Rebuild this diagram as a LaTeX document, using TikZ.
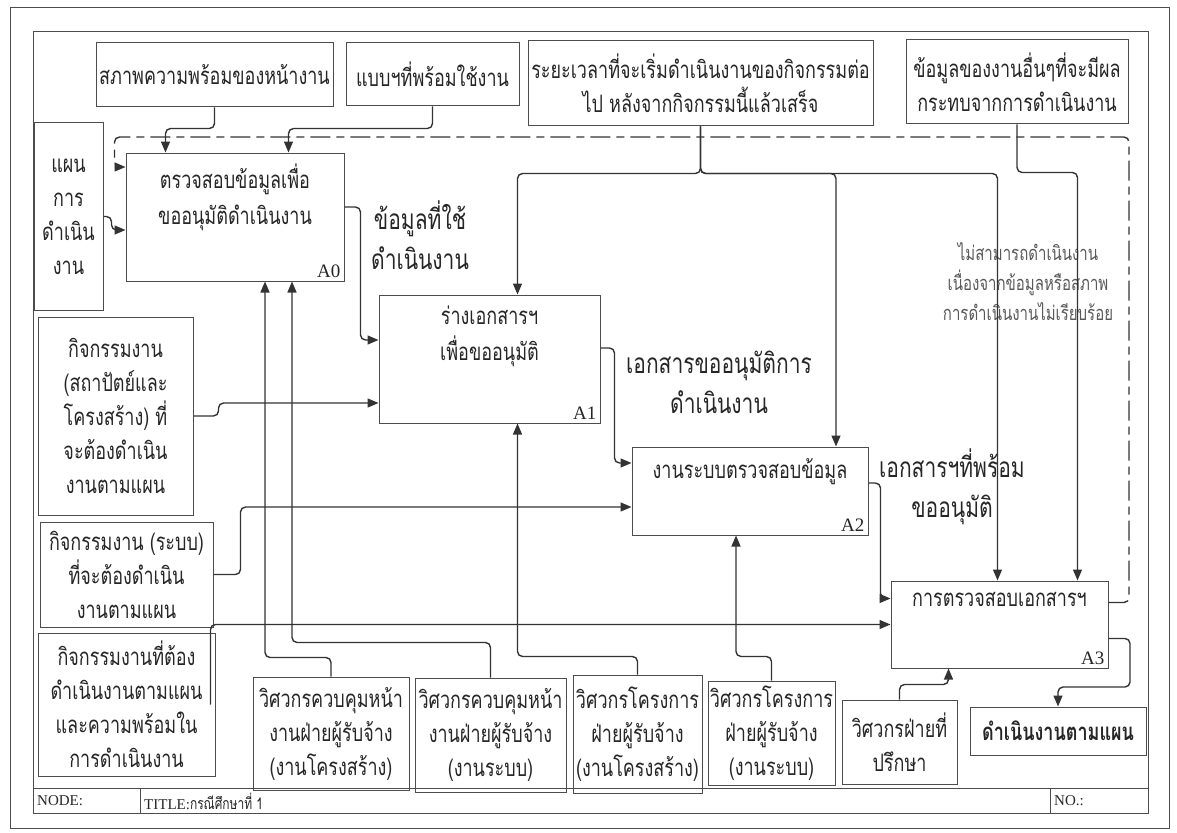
\documentclass[tikz,border=0pt]{standalone}
\usepackage{fontspec}
\setmainfont{Liberation Serif}
\newfontfamily\thai[Script=Thai,FakeStretch=0.75]{Loma}
\usetikzlibrary{arrows.meta}

\tikzset{
	box/.style={draw=black!70, line width=1pt, inner sep=0pt, align=center, text=black!85, font=\thai\fontsize{24}{34}\selectfont},
	acttxt/.style={anchor=north, yshift=-8pt, align=center, text=black!85, font=\thai\fontsize{24}{36}\selectfont},
	num/.style={anchor=south east, inner sep=4pt, text=black!85, font=\fontsize{19}{19}\selectfont},
	flow/.style={draw=black!80, line width=1.4pt, rounded corners=5pt, -{Triangle[length=11pt,width=9pt]}},
	fback/.style={flow, dash pattern=on 20pt off 6pt on 8pt off 6pt},
	lbl/.style={text=black!85, align=center, font=\thai\fontsize{28}{40}\selectfont},
	note/.style={text=black!65, align=center, font=\thai\fontsize{20}{30}\selectfont},
	frame/.style={draw=black!70, line width=1pt},
	foot/.style={anchor=west, inner sep=2pt, text=black!85, font=\fontsize{15}{15}\selectfont}
}

\begin{document}
\begin{tikzpicture}[x=1pt, y=-1pt]
	\useasboundingbox (0,0) rectangle (1177,832);
	\draw[frame] (10,8) rectangle (1169,828);
	\draw[frame] (33,32) rectangle (1148,813);
	\draw[frame] (33,788) -- (1148,788) (140,788) -- (140,813) (1050,788) -- (1050,813);
	\node[foot] (nd) at (35,801) {NODE:};
	\node[foot] (tt) at (142,801) {TITLE:{\thai\fontsize{16}{16}\selectfont กรณีศึกษาที่ 1}};
	\node[foot] (no) at (1052,801) {NO.:};

	% top
	\node[box, minimum width=237, minimum height=64] (T1) at (214.5,75) {สภาพความพร้อมของหน้างาน};
	\node[box, minimum width=173, minimum height=63] (T2) at (432.5,74.5) {แบบฯที่พร้อมใช้งาน};
	\node[box, minimum width=345, minimum height=85] (T3) at (700.5,83.5) {ระยะเวลาที่จะเริ่มดำเนินงานของกิจกรรมต่อ\\ไป หลังจากกิจกรรมนี้แล้วเสร็จ};
	\node[box, minimum width=222, minimum height=84] (T4) at (1017,82) {ข้อมูลของงานอื่นๆที่จะมีผล\\กระทบจากการดำเนินงาน};

	% left
	\node[box, minimum width=69, minimum height=187] (L1) at (68.5,216.5) {แผน\\การ\\ดำเนิน\\งาน};
	\node[box, minimum width=155, minimum height=198] (L2) at (115.5,416) {กิจกรรมงาน\\(สถาปัตย์และ\\โครงสร้าง) ที่\\จะต้องดำเนิน\\งานตามแผน};
	\node[box, minimum width=173, minimum height=105] (L3) at (126.5,574.5) {กิจกรรมงาน (ระบบ)\\ที่จะต้องดำเนิน\\งานตามแผน};
	\node[box, minimum width=177, minimum height=143] (L4) at (126.5,704.5) {กิจกรรมงานที่ต้อง\\ดำเนินงานตามแผน\\และความพร้อมใน\\การดำเนินงาน};

	% activities
	\node[box, minimum width=218, minimum height=128, label={[acttxt]north:{ตรวจสอบข้อมูลเพื่อ\\ขออนุมัติดำเนินงาน}}, label={[num]south east:A0}] (A0) at (235,217) {};
	\node[box, minimum width=221, minimum height=128, label={[acttxt]north:{ร่างเอกสารฯ\\เพื่อขออนุมัติ}}, label={[num]south east:A1}] (A1) at (489.5,359) {};
	\node[box, minimum width=236, minimum height=88, label={[acttxt]north:{งานระบบตรวจสอบข้อมูล}}, label={[num]south east:A2}] (A2) at (750,491) {};
	\node[box, minimum width=217, minimum height=87, label={[acttxt]north:{การตรวจสอบเอกสารฯ}}, label={[num]south east:A3}] (A3) at (999.5,624.5) {};

	% bottom
	\node[box, minimum width=156, minimum height=113] (B1) at (331,733.5) {วิศวกรควบคุมหน้า\\งานฝ่ายผู้รับจ้าง\\(งานโครงสร้าง)};
	\node[box, minimum width=151, minimum height=114] (B2) at (490.5,735) {วิศวกรควบคุมหน้า\\งานฝ่ายผู้รับจ้าง\\(งานระบบ)};
	\node[box, minimum width=129, minimum height=118] (B3) at (637.5,734) {วิศวกรโครงการ\\ฝ่ายผู้รับจ้าง\\(งานโครงสร้าง)};
	\node[box, minimum width=127, minimum height=104] (B4) at (771.5,733) {วิศวกรโครงการ\\ฝ่ายผู้รับจ้าง\\(งานระบบ)};
	\node[box, minimum width=115, minimum height=84] (B5) at (899.5,742) {วิศวกรฝ่ายที่\\ปรึกษา};
	\node[box, minimum width=176, minimum height=48, font=\thai\bfseries\fontsize{24}{34}\selectfont] (B6) at (1058,731) {ดำเนินงานตามแผน};

	% labels
	\node[lbl] (l0) at (420,235) {ข้อมูลที่ใช้\\ดำเนินงาน};
	\node[lbl] (l1) at (719,382) {เอกสารขออนุมัติการ\\ดำเนินงาน};
	\node[lbl] (l2) at (952,487) {เอกสารฯที่พร้อม\\ขออนุมัติ};
	\node[note] (l3) at (1028,282) {ไม่สามารถดำเนินงาน\\เนื่องจากข้อมูลหรือสภาพ\\การดำเนินงานไม่เรียบร้อย};

	\draw[flow] (T1.south) -- ++(0,21) -| ([xshift=40pt]A0.north west);
	\draw[flow] (T2.south) -- ++(0,22) -| ([xshift=163pt]A0.north west);
	\draw[flow] (T3.south) -- ++(0,47) -| ([xshift=28pt]A1.north);
	\draw[flow] (T3.south) -- ++(0,47) -| ([xshift=86pt]A2.north);
	\draw[flow] (T3.south) -- ++(0,47) -| ([xshift=-2pt]A3.north);
	\draw[flow] (T4.south) -- ++(0,48) -| ([xshift=78pt]A3.north);

	\draw[flow] (L1.east) -- ++(8,0) |- ([yshift=-13pt]A0.west);
	\draw[flow] (L2.east) -- ++(25,0) |- ([yshift=-44pt]A1.west);
	\draw[flow] (L3.east) -- ++(27,0) |- ([yshift=-16pt]A2.west);
	\draw[flow] ([xshift=-5pt]L4.east) |- (A3.west);

	\draw[flow] ([yshift=10pt]A0.east) -- ++(16,0) |- ([yshift=19pt]A1.west);
	\draw[flow] ([yshift=11pt]A1.east) -- ++(14,0) |- ([yshift=28pt]A2.west);
	\draw[flow] ([yshift=8pt]A2.east) -- ++(12,0) |- ([yshift=26pt]A3.west);

	\draw[flow] (B1.north) -- ++(0,-19) -| ([xshift=30pt]A0.south);
	\draw[flow] (B2.north) -- ++(0,-35) -| ([xshift=57pt]A0.south);
	\draw[flow] (B3.north) -- ++(0,-18) -| ([xshift=28pt]A1.south);
	\draw[flow] (B4.north) -- ++(0,-24) -| ([xshift=-14pt]A2.south);
	\draw[flow] (B5.north) -- ++(0,-15) -| ([xshift=-51pt]A3.south);

	\draw[flow] ([yshift=-14pt]A3.east) -| (1130,687) -| (B6.north);
	\draw[fback] ([yshift=22pt]A3.east) -| (1129,137) -| ([xshift=-11pt,yshift=50pt]A0.west) -- ([yshift=50pt]A0.west);
\end{tikzpicture}
\end{document}
